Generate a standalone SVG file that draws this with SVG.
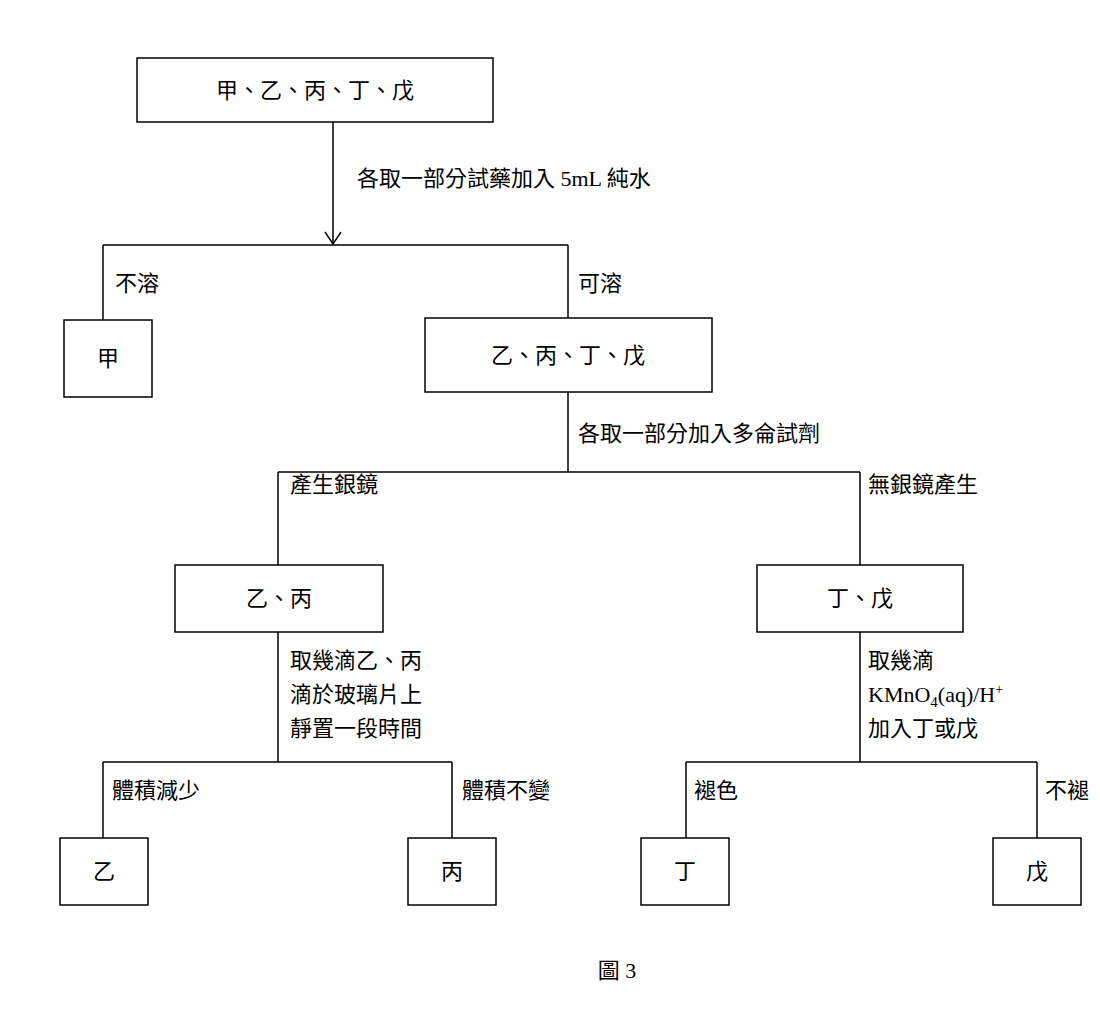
<svg xmlns="http://www.w3.org/2000/svg" width="1100" height="1020" viewBox="0 0 1100 1020">
<style>
.b{fill:#fff;stroke:#000;stroke-width:1.5}
.l{stroke:#000;stroke-width:1.5;fill:none}
text{font-family:"Liberation Serif","Noto Sans CJK TC",serif;font-size:22px;fill:#000}
.c{text-anchor:middle}
</style>
<defs><marker id="a" markerWidth="20" markerHeight="20" refX="10" refY="16" orient="0" markerUnits="userSpaceOnUse" viewBox="0 0 20 20"><path d="M2 4 L10 16 L18 4" fill="none" stroke="#000" stroke-width="1.5"/></marker></defs>
<rect width="1100" height="1020" fill="#fff"/>
<g id="connectors">
<path class="l" d="M333 122 V244" marker-end="url(#a)"/>
<path class="l" d="M103 245 H568 M103 245 V320 M568 245 V318"/>
<path class="l" d="M568 392 V472 M278 472 H860 M278 472 V565 M860 472 V565"/>
<path class="l" d="M278 632 V762 M103 762 H452 M103 762 V838 M452 762 V838" stroke-width="2"/>
<path class="l" d="M860 632 V762 M686 762 H1037 M686 762 V838 M1037 762 V838"/>
</g>
<g id="labels">
<text x="357" y="186">各取一部分試藥加入 5mL 純水</text>
<text x="115" y="291">不溶</text>
<text x="578" y="291">可溶</text>
<text x="578" y="441">各取一部分加入多侖試劑</text>
<text x="290" y="492">產生銀鏡</text>
<text x="868" y="492">無銀鏡產生</text>
<text x="290" y="668">取幾滴乙、丙</text>
<text x="290" y="702">滴於玻璃片上</text>
<text x="290" y="736">靜置一段時間</text>
<text x="868" y="668">取幾滴</text>
<text x="868" y="702">KMnO<tspan font-size="15" dy="5">4</tspan><tspan dy="-5">(aq)/H</tspan><tspan font-size="14" dy="-8">+</tspan></text>
<text x="868" y="736">加入丁或戊</text>
<text x="112" y="798">體積減少</text>
<text x="462" y="798">體積不變</text>
<text x="694" y="798">褪色</text>
<text x="1045" y="798">不褪</text>
<text x="617" y="978" class="c">圖 3</text>
</g>
<g id="n0"><rect class="b" x="137" y="58" width="356" height="64"/><text class="c" x="315" y="98">甲、乙、丙、丁、戊</text></g>
<g id="n1"><rect class="b" x="64" y="320" width="88" height="77"/><text class="c" x="108" y="366">甲</text></g>
<g id="n2"><rect class="b" x="425" y="318" width="287" height="74"/><text class="c" x="568" y="363">乙、丙、丁、戊</text></g>
<g id="n3"><rect class="b" x="175" y="565" width="208" height="67"/><text class="c" x="279" y="606">乙、丙</text></g>
<g id="n4"><rect class="b" x="757" y="565" width="206" height="67"/><text class="c" x="860" y="606">丁、戊</text></g>
<g id="n5"><rect class="b" x="60" y="838" width="88" height="67"/><text class="c" x="104" y="879">乙</text></g>
<g id="n6"><rect class="b" x="408" y="838" width="88" height="67"/><text class="c" x="452" y="879">丙</text></g>
<g id="n7"><rect class="b" x="641" y="838" width="88" height="67"/><text class="c" x="685" y="879">丁</text></g>
<g id="n8"><rect class="b" x="993" y="838" width="88" height="67"/><text class="c" x="1037" y="879">戊</text></g>
</svg>
